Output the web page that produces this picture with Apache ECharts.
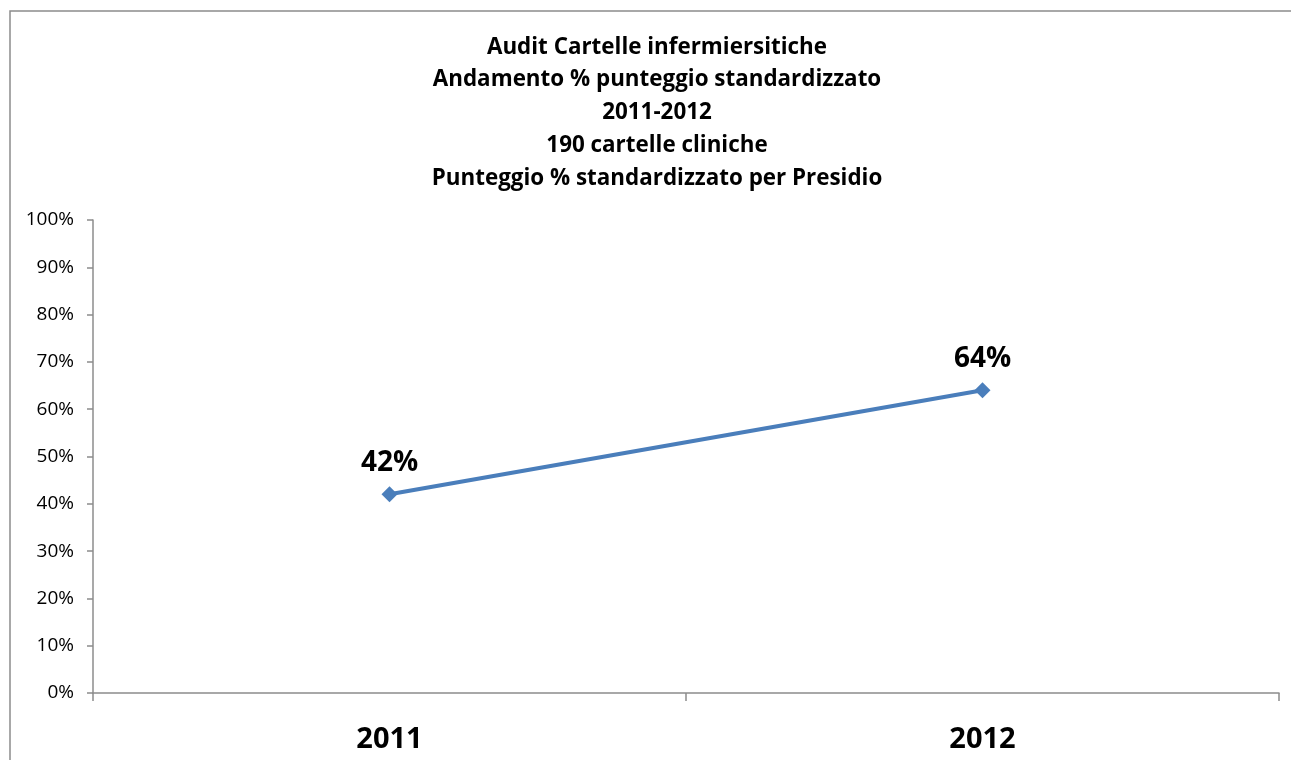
<!DOCTYPE html>
<html>
<head>
<meta charset="utf-8">
<script src="https://cdn.jsdelivr.net/npm/echarts@6/dist/echarts.min.js"></script>
<style>
  html, body { margin: 0; padding: 0; background: #fff; }
  #chart { width: 1291px; height: 760px; }
</style>
</head>
<body>
<div id="chart"></div>
<script>
// Audit trend: standardized score per year
const years = ['2011', '2012'];
const scores = [42, 64];
const yTicks = [0, 10, 20, 30, 40, 50, 60, 70, 80, 90, 100];
const titleLines = [
  'Audit Cartelle infermiersitiche',
  'Andamento % punteggio standardizzato',
  '2011-2012',
  '190 cartelle cliniche',
  'Punteggio % standardizzato per Presidio'
];

const font = '"Open Sans", Lato, "Liberation Sans", sans-serif';
const chart = echarts.init(document.getElementById('chart'));

chart.setOption({
  backgroundColor: '#fff',
  animation: false,
  graphic: [{
    type: 'rect',
    shape: { x: 10, y: 11, width: 1400, height: 900 },
    style: { fill: 'none', stroke: '#8c8c8c', lineWidth: 1.5 },
    silent: true
  }],
  title: {
    text: titleLines.join('\n'),
    left: 652,
    textAlign: 'center',
    top: 26,
    textStyle: {
      fontFamily: font,
      fontWeight: 'bold',
      fontSize: 22.4,
      lineHeight: 32.7,
      color: '#000'
    }
  },
  grid: { left: 93, right: 12, top: 220, bottom: 67 },
  xAxis: {
    type: 'category',
    data: years,
    boundaryGap: true,
    axisLine: { lineStyle: { color: '#8c8c8c', width: 1.5 } },
    axisTick: { show: true, length: 8, lineStyle: { color: '#8c8c8c', width: 1.5 } },
    axisLabel: {
      margin: 32,
      fontFamily: font,
      fontWeight: 'bold',
      fontSize: 29,
      color: '#000'
    },
    splitLine: { show: false }
  },
  yAxis: {
    type: 'value',
    min: yTicks[0],
    max: yTicks[yTicks.length - 1],
    interval: yTicks[1] - yTicks[0],
    axisLine: { show: true, lineStyle: { color: '#8c8c8c', width: 1.5 } },
    axisTick: { show: true, length: 6, lineStyle: { color: '#8c8c8c', width: 1.5 } },
    axisLabel: {
      margin: 19,
      fontFamily: font,
      fontSize: 19,
      color: '#000',
      formatter: v => v + '%'
    },
    splitLine: { show: false }
  },
  series: [{
    type: 'line',
    data: scores,
    symbol: 'diamond',
    symbolSize: 16,
    lineStyle: { color: '#4a7ebb', width: 4 },
    itemStyle: { color: '#4a7ebb' },
    label: {
      show: true,
      position: 'top',
      distance: 9,
      formatter: p => p.value + '%',
      fontFamily: font,
      fontWeight: 'bold',
      fontSize: 28,
      color: '#000'
    }
  }]
});
</script>
</body>
</html>
